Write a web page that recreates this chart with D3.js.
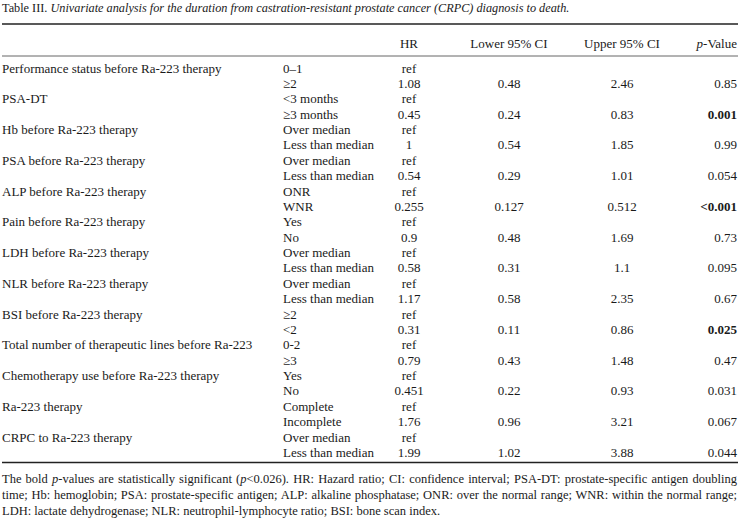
<!DOCTYPE html>
<html>
<head>
<meta charset="utf-8">
<script src="https://cdn.jsdelivr.net/npm/d3@7"></script>
<style>
  html, body { margin: 0; padding: 0; background: #fff; }
  svg { display: block; }
  text { font-family: "Liberation Serif", "Times New Roman", serif; fill: #1a1a1a; }
</style>
</head>
<body>
<svg id="chart" width="740" height="523"></svg>
<script>
// ---------- data ----------
const titleLead = "Table III.";
const titleText = "Univariate analysis for the duration from castration-resistant prostate cancer (CRPC) diagnosis to death.";

const headers = ["HR", "Lower 95% CI", "Upper 95% CI", "p-Value"];

const variables = [
  "Performance status before Ra-223 therapy",
  "PSA-DT",
  "Hb before Ra-223 therapy",
  "PSA before Ra-223 therapy",
  "ALP before Ra-223 therapy",
  "Pain before Ra-223 therapy",
  "LDH before Ra-223 therapy",
  "NLR before Ra-223 therapy",
  "BSI before Ra-223 therapy",
  "Total number of therapeutic lines before Ra-223",
  "Chemotherapy use before Ra-223 therapy",
  "Ra-223 therapy",
  "CRPC to Ra-223 therapy"
];

const levels = [
  "0–1", "≥2",
  "<3 months", "≥3 months",
  "Over median", "Less than median",
  "Over median", "Less than median",
  "ONR", "WNR",
  "Yes", "No",
  "Over median", "Less than median",
  "Over median", "Less than median",
  "≥2", "<2",
  "0-2", "≥3",
  "Yes", "No",
  "Complete", "Incomplete",
  "Over median", "Less than median"
];

const hr       = ["ref","1.08","ref","0.45","ref","1","ref","0.54","ref","0.255","ref","0.9","ref","0.58","ref","1.17","ref","0.31","ref","0.79","ref","0.451","ref","1.76","ref","1.99"];
const lowerCI  = ["","0.48","","0.24","","0.54","","0.29","","0.127","","0.48","","0.31","","0.58","","0.11","","0.43","","0.22","","0.96","","1.02"];
const upperCI  = ["","2.46","","0.83","","1.85","","1.01","","0.512","","1.69","","1.1","","2.35","","0.86","","1.48","","0.93","","3.21","","3.88"];
const pValues  = ["","0.85","","0.001","","0.99","","0.054","","<0.001","","0.73","","0.095","","0.67","","0.025","","0.47","","0.031","","0.067","","0.044"];
const boldP    = ["0.001", "<0.001", "0.025"];

const footLines = [
  [["The bold ", false], ["p", true], ["-values are statistically significant (", false], ["p", true], ["<0.026). HR: Hazard ratio; CI: confidence interval; PSA-DT: prostate-specific antigen doubling", false]],
  [["time; Hb: hemoglobin; PSA: prostate-specific antigen; ALP: alkaline phosphatase; ONR: over the normal range; WNR: within the normal range;", false]],
  [["LDH: lactate dehydrogenase; NLR: neutrophil-lymphocyte ratio; BSI: bone scan index.", false]]
];
const footJustify = [true, true, false];

// ---------- layout ----------
const left = 2, right = 738;
const fs = 13;
const svg = d3.select("#chart");

const y = d3.scaleLinear().domain([0, levels.length - 1]).range([72.5, 457]);

const colX = d3.scaleOrdinal()
  .domain(["var", "level", "HR", "Lower 95% CI", "Upper 95% CI", "p-Value"])
  .range([left, 283, 409, 509, 622, 737]);
const colAnchor = d3.scaleOrdinal()
  .domain(["var", "level", "HR", "Lower 95% CI", "Upper 95% CI", "p-Value"])
  .range(["start", "start", "middle", "middle", "middle", "end"]);

// title
const t = svg.append("text").attr("x", left).attr("y", 12).attr("font-size", 12.25);
t.append("tspan").text(titleLead + " ");
t.append("tspan").attr("font-style", "italic").text(titleText);

// rules
const rule = (yy, w, c) => svg.append("line").attr("x1", left).attr("x2", right)
  .attr("y1", yy).attr("y2", yy).attr("stroke", c).attr("stroke-width", w);
rule(24, 1.4, "#222");
rule(56, 1, "#666");
rule(462.5, 1.4, "#222");

// header
headers.forEach(h => {
  const tx = svg.append("text").attr("x", colX(h)).attr("y", 47.5)
    .attr("text-anchor", colAnchor(h)).attr("font-size", fs);
  if (h === "p-Value") {
    tx.append("tspan").attr("font-style", "italic").text("p");
    tx.append("tspan").text("-Value");
  } else tx.text(h);
});

// body
const rows = levels.map((lv, i) => ({
  i, lv,
  variable: i % 2 === 0 ? variables[i / 2] : "",
  hr: hr[i], lo: lowerCI[i], up: upperCI[i], p: pValues[i]
}));

const g = svg.append("g").attr("font-size", fs);
const rowG = g.selectAll("g.row").data(rows).join("g").attr("class", "row")
  .attr("transform", d => `translate(0,${y(d.i)})`);

const cells = [
  ["var", d => d.variable],
  ["level", d => d.lv],
  ["HR", d => d.hr],
  ["Lower 95% CI", d => d.lo],
  ["Upper 95% CI", d => d.up],
  ["p-Value", d => d.p]
];
cells.forEach(([key, acc]) => {
  rowG.append("text")
    .attr("x", colX(key))
    .attr("text-anchor", colAnchor(key))
    .attr("font-weight", d => key === "p-Value" && boldP.includes(d.p) ? "bold" : null)
    .text(acc);
});

// footnote
footLines.forEach((parts, k) => {
  const tx = svg.append("text").attr("x", left).attr("y", 483 + k * 16).attr("font-size", 12.5);
  parts.forEach(([s, it]) => tx.append("tspan").attr("font-style", it ? "italic" : null).text(s));
  if (footJustify[k]) {
    const full = parts.map(p => p[0]).join("");
    const spaces = (full.match(/ /g) || []).length;
    const natural = tx.node().getComputedTextLength();
    tx.attr("word-spacing", ((right - 1 - left) - natural) / spaces);
  }
});
</script>
</body>
</html>
